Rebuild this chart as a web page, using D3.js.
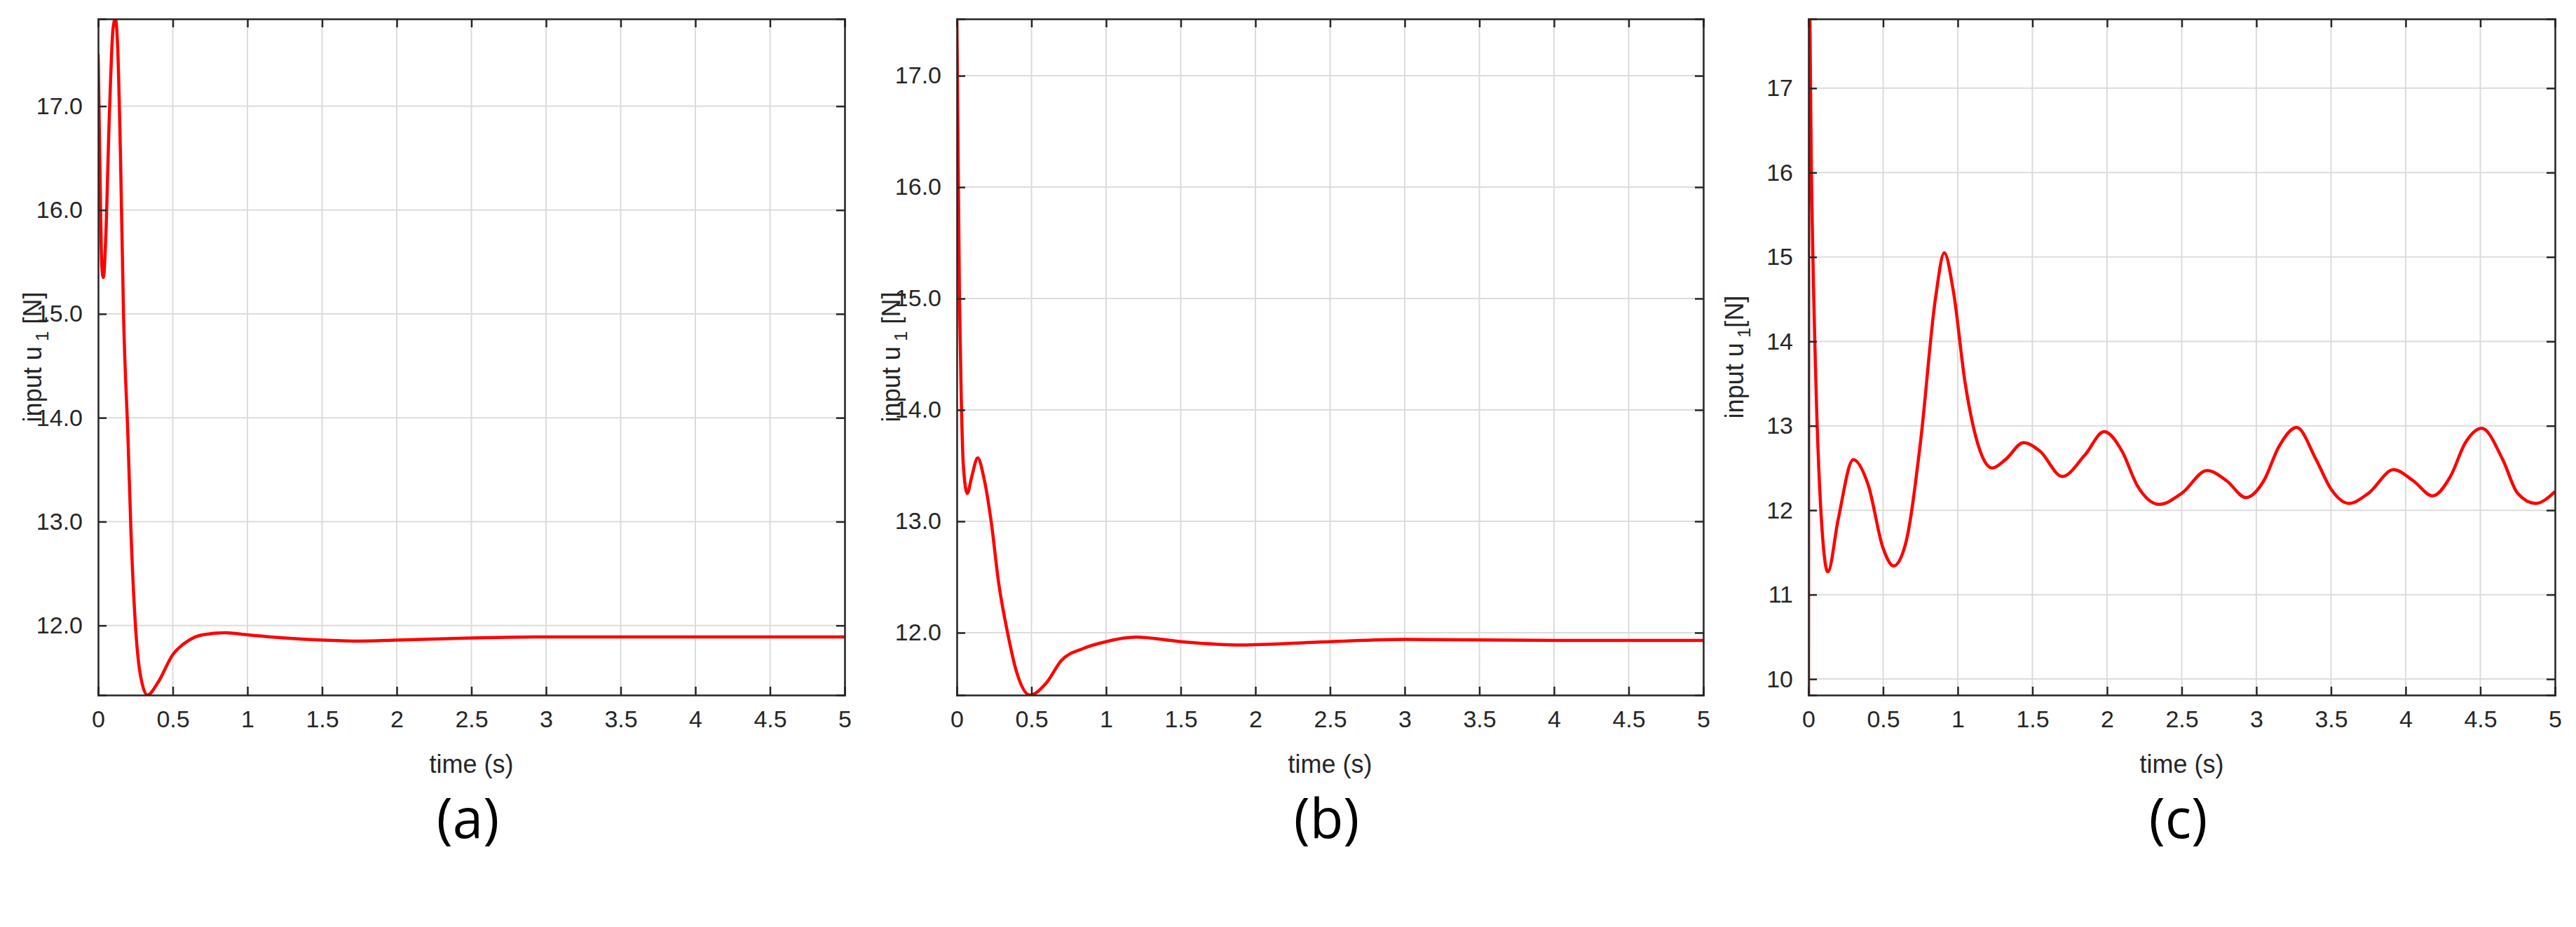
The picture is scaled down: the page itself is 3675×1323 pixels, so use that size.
<!DOCTYPE html>
<html>
<head>
<meta charset="utf-8">
<script src="https://cdn.jsdelivr.net/npm/d3@7"></script>
<style>
  body { margin: 0; background: #fff; }
  text { font-family: "Liberation Sans", Arial, sans-serif; }
</style>
</head>
<body>
<svg id="chart" width="3675" height="1323"></svg>
<script>
// time axis ticks shared by all panels
const timeTicks = [0, 0.5, 1, 1.5, 2, 2.5, 3, 3.5, 4, 4.5, 5];

// panel (a)
const seriesA = [[0,17.5],[0.01,16.6],[0.025,15.45],[0.035,15.35],[0.05,15.7],[0.075,16.9],[0.1,17.75],[0.115,17.84],
  [0.13,17.6],[0.15,16.5],[0.17,15.0],[0.2,13.8],[0.22,12.9],[0.25,12.0],[0.28,11.55],[0.33,11.33],[0.4,11.45],
  [0.5,11.72],[0.6,11.85],[0.7,11.91],[0.85,11.93],[1.0,11.91],[1.25,11.88],[1.5,11.86],[1.75,11.85],[2,11.86],
  [2.5,11.88],[3,11.89],[4,11.89],[5,11.89]];
const ticksA = [12, 13, 14, 15, 16, 17];

// panel (b)
const seriesB = [[0,17.6],[0.008,16.4],[0.018,15.0],[0.03,14.1],[0.044,13.5],[0.07,13.25],[0.1,13.4],[0.14,13.57],
  [0.18,13.4],[0.23,13.0],[0.28,12.45],[0.34,12.0],[0.4,11.65],[0.49,11.44],[0.6,11.55],[0.7,11.75],[0.85,11.86],
  [1.0,11.92],[1.2,11.96],[1.5,11.92],[1.9,11.89],[2.5,11.92],[3,11.94],[4,11.93],[5,11.93]];
const ticksB = [12, 13, 14, 15, 16, 17];

// panel (c)
const seriesC = [[0,9.0],[0.003,18.5],[0.02,16],[0.05,13.5],[0.09,11.8],[0.13,11.27],[0.2,11.9],[0.3,12.6],[0.4,12.3],
  [0.5,11.55],[0.57,11.34],[0.65,11.6],[0.75,12.8],[0.85,14.5],[0.91,15.05],[0.97,14.6],[1.05,13.5],[1.15,12.7],
  [1.23,12.5],[1.32,12.6],[1.44,12.8],[1.55,12.7],[1.7,12.4],[1.85,12.65],[1.98,12.93],[2.1,12.7],[2.2,12.3],
  [2.35,12.07],[2.5,12.2],[2.67,12.47],[2.8,12.35],[2.93,12.15],[3.05,12.35],[3.15,12.75],[3.27,12.98],[3.4,12.6],
  [3.5,12.25],[3.62,12.08],[3.75,12.2],[3.92,12.48],[4.05,12.35],[4.18,12.17],[4.3,12.4],[4.4,12.8],[4.51,12.97],
  [4.65,12.6],[4.75,12.2],[4.87,12.08],[5,12.22]];
const ticksC = [10, 11, 12, 13, 14, 15, 16, 17];

const panels = [
  {left: 140, right: 1205, yDomain: [11.33, 17.84], yTicks: ticksA, data: seriesA, caption: "(a)", ylabX: 47, sub: true},
  {left: 1365, right: 2430, yDomain: [11.44, 17.51], yTicks: ticksB, data: seriesB, caption: "(b)", ylabX: 47, sub: true},
  {left: 2580, right: 3645, yDomain: [9.81, 17.82], yTicks: ticksC, data: seriesC, caption: "(c)", ylabX: 35, sub: false}
];
const plotTop = 27, plotBottom = 992;
const ink = "#262626";
const svg = d3.select("#chart");

panels.forEach((p, i) => {
  const x = d3.scaleLinear().domain([0, 5]).range([p.left, p.right]);
  const y = d3.scaleLinear().domain(p.yDomain).range([plotBottom, plotTop]);
  const g = svg.append("g");

  // grid
  g.selectAll(".vg").data(timeTicks).enter().append("line")
    .attr("x1", d => x(d)).attr("x2", d => x(d)).attr("y1", plotTop).attr("y2", plotBottom)
    .attr("stroke", "#dcdcdc").attr("stroke-width", 2);
  g.selectAll(".hg").data(p.yTicks).enter().append("line")
    .attr("y1", d => y(d)).attr("y2", d => y(d)).attr("x1", p.left).attr("x2", p.right)
    .attr("stroke", "#dcdcdc").attr("stroke-width", 2);

  // curve
  g.append("clipPath").attr("id", "clip" + i).append("rect")
    .attr("x", p.left).attr("y", plotTop).attr("width", p.right - p.left).attr("height", plotBottom - plotTop);
  g.append("path").datum(p.data)
    .attr("clip-path", `url(#clip${i})`)
    .attr("fill", "none").attr("stroke", "#ff0000").attr("stroke-width", 4.5)
    .attr("d", d3.line().x(d => x(d[0])).y(d => y(d[1])).curve(d3.curveMonotoneX));

  // axes (MATLAB-style box with inward ticks)
  const tl = 12;
  g.append("g").attr("transform", `translate(0,${plotBottom})`)
    .call(d3.axisBottom(x).tickValues(timeTicks).tickSize(-tl).tickPadding(22).tickFormat(d3.format("")));
  g.append("g").attr("transform", `translate(0,${plotTop})`)
    .call(d3.axisTop(x).tickValues(timeTicks).tickSize(-tl).tickFormat(""));
  g.append("g").attr("transform", `translate(${p.left},0)`)
    .call(d3.axisLeft(y).tickValues(p.yTicks).tickSize(-tl).tickPadding(22));
  g.append("g").attr("transform", `translate(${p.right},0)`)
    .call(d3.axisRight(y).tickValues(p.yTicks).tickSize(-tl).tickFormat(""));
  g.selectAll(".domain, .tick line").attr("stroke", ink).attr("stroke-width", 2.5);
  g.selectAll(".tick text").attr("fill", ink).style("font-size", "34px");

  // labels
  g.append("text").attr("x", (p.left + p.right) / 2).attr("y", 1103)
    .attr("text-anchor", "middle").attr("fill", ink).style("font-size", "36px").text("time (s)");
  const yl = g.append("text")
    .attr("transform", `translate(${p.left - 140 + p.ylabX + 12},${(plotTop + plotBottom) / 2}) rotate(-90)`)
    .attr("text-anchor", "middle").attr("fill", ink).style("font-size", "36px");
  yl.append("tspan").text("input u");
  yl.append("tspan").attr("dy", 10).style("font-size", "26px").text(" 1");
  yl.append("tspan").attr("dy", -10).text(p.sub ? " [N]" : "[N]");

  g.append("text").attr("x", (p.left + p.right) / 2 - 5).attr("y", 1196)
    .attr("text-anchor", "middle").attr("fill", "#000").style("font-size", "78px")
    .style("font-family", "'Open Sans', sans-serif").text(p.caption);
});
</script>
</body>
</html>
